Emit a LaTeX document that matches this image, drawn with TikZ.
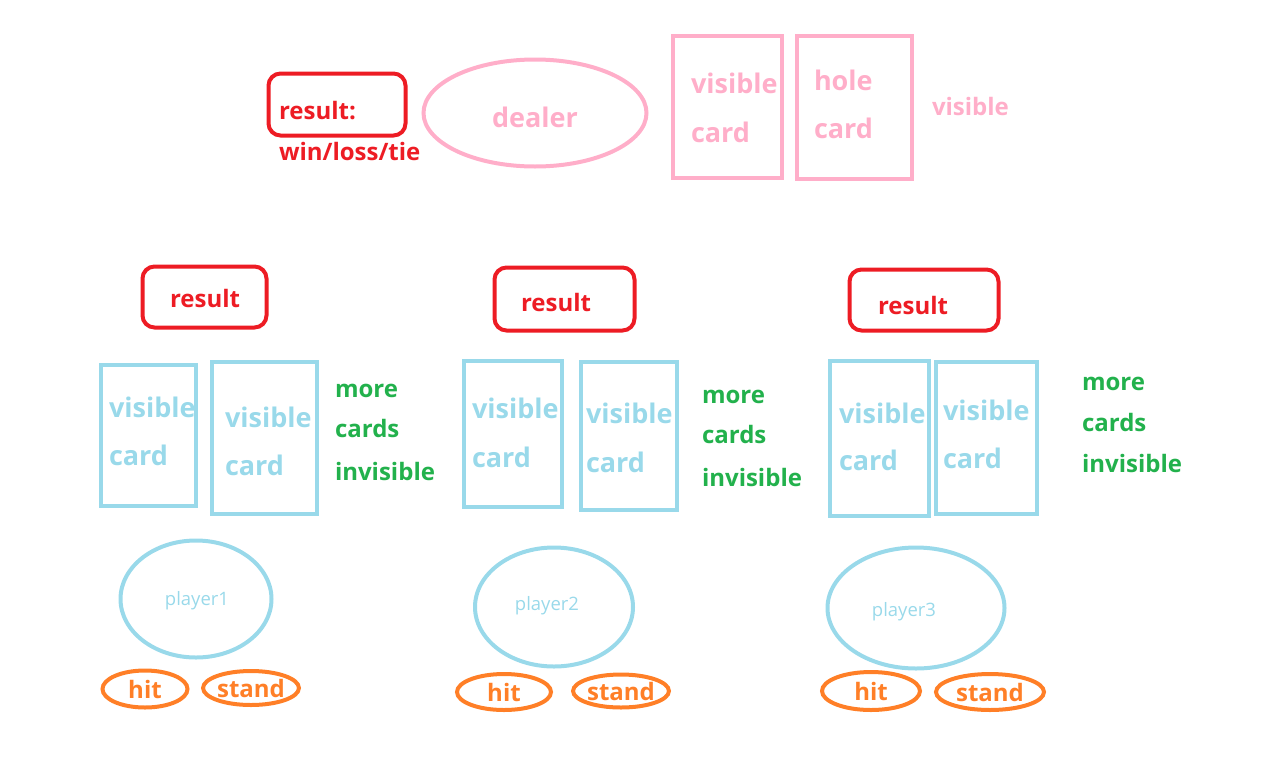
\documentclass[tikz,border=0pt]{standalone}
\usepackage{fontspec}
\setmainfont{Open Sans}
\usetikzlibrary{shapes.geometric}
\definecolor{pred}{HTML}{ED1C24}
\definecolor{ppink}{HTML}{FFAEC9}
\definecolor{pblue}{HTML}{99D9EA}
\definecolor{pgreen}{HTML}{22B14C}
\definecolor{porange}{HTML}{FF7F27}
\begin{document}
\begin{tikzpicture}[x=1pt,y=-1pt,line width=4pt,
  bigtxt/.style={anchor=base west,inner sep=0pt,font=\fontsize{27}{27}\selectfont\bfseries},
  midtxt/.style={anchor=base west,inner sep=0pt,font=\fontsize{24}{24}\selectfont\bfseries},
  cardbox/.style={draw,rectangle,inner sep=0pt},
  resbox/.style={draw=pred,rectangle,rounded corners=12pt,inner sep=0pt},
  oval/.style={draw,ellipse,inner sep=0pt},
  actoval/.style={draw=porange,ellipse,inner sep=0pt,text=porange,font=\fontsize{24}{24}\selectfont\bfseries},
  plabel/.style={inner sep=0pt,text=pblue,font=\fontsize{18.5}{18.5}\selectfont}
]
\useasboundingbox (0,0) rectangle (1280,769);

% ---------- dealer ----------
\node[resbox,minimum width=137pt,minimum height=62pt] (dres) at (337,104.5) {};
\node[midtxt,text=pred] (dres1) at (277,119) {result:};
\node[midtxt,text=pred] (dres2) at (277,160) {win/loss/tie};
\node[oval,draw=ppink,minimum width=223pt,minimum height=107pt] (dealer) at (535,113) {};
\node[inner sep=0pt,text=ppink,font=\fontsize{27}{27}\selectfont\bfseries] (dealert) at (535,117) {dealer};
\node[cardbox,draw=ppink,minimum width=109pt,minimum height=142pt] (dc1) at (727,106.5) {};
\node[bigtxt,text=ppink] (dc1a) at (689,93) {visible};
\node[bigtxt,text=ppink] (dc1b) at (689,142) {card};
\node[cardbox,draw=ppink,minimum width=115pt,minimum height=143pt] (dc2) at (854,107) {};
\node[bigtxt,text=ppink] (dc2a) at (812,90) {hole};
\node[bigtxt,text=ppink] (dc2b) at (812,138) {card};
\node[midtxt,text=ppink] (dvis) at (930,115) {visible};

% ---------- player 1 ----------
\node[resbox,minimum width=124pt,minimum height=61pt] (r1) at (204.5,297) {};
\node[midtxt,text=pred] (r1t) at (168,307) {result};
\node[cardbox,draw=pblue,minimum width=95pt,minimum height=141pt] (p1a) at (148,435) {};
\node[bigtxt,text=pblue] (p1a1) at (107,417) {visible};
\node[bigtxt,text=pblue] (p1a2) at (107,465) {card};
\node[cardbox,draw=pblue,minimum width=105pt,minimum height=152pt] (p1b) at (264,437.5) {};
\node[bigtxt,text=pblue] (p1b1) at (223,427) {visible};
\node[bigtxt,text=pblue] (p1b2) at (223,475) {card};
\node[midtxt,text=pgreen] (g1a) at (333,397) {more};
\node[midtxt,text=pgreen] (g1b) at (333,437) {cards};
\node[midtxt,text=pgreen] (g1c) at (333,480) {invisible};
\node[oval,draw=pblue,minimum width=151pt,minimum height=117pt] (pl1) at (196,599) {};
\node[plabel] (pl1t) at (197,601) {player1};
\node[actoval,minimum width=85pt,minimum height=37pt] (hit1) at (145,689) {hit};
\node[actoval,minimum width=94pt,minimum height=34pt] (st1) at (251,688) {stand};

% ---------- player 2 ----------
\node[resbox,minimum width=140pt,minimum height=63pt] (r2) at (564.5,299) {};
\node[midtxt,text=pred] (r2t) at (519,311) {result};
\node[cardbox,draw=pblue,minimum width=98pt,minimum height=146pt] (p2a) at (512.5,433.5) {};
\node[bigtxt,text=pblue] (p2a1) at (470,418) {visible};
\node[bigtxt,text=pblue] (p2a2) at (470,467) {card};
\node[cardbox,draw=pblue,minimum width=96pt,minimum height=148pt] (p2b) at (628.5,435.5) {};
\node[bigtxt,text=pblue] (p2b1) at (584,423) {visible};
\node[bigtxt,text=pblue] (p2b2) at (584,472) {card};
\node[midtxt,text=pgreen] (g2a) at (700,403) {more};
\node[midtxt,text=pgreen] (g2b) at (700,443) {cards};
\node[midtxt,text=pgreen] (g2c) at (700,486) {invisible};
\node[oval,draw=pblue,minimum width=158pt,minimum height=119pt] (pl2) at (554,607) {};
\node[plabel] (pl2t) at (547,606) {player2};
\node[actoval,minimum width=94pt,minimum height=36pt] (hit2) at (504,692) {hit};
\node[actoval,minimum width=93pt,minimum height=33pt] (st2) at (621,691) {stand};

% ---------- player 3 ----------
\node[resbox,minimum width=149pt,minimum height=61pt] (r3) at (924,300) {};
\node[midtxt,text=pred] (r3t) at (876,314) {result};
\node[cardbox,draw=pblue,minimum width=99pt,minimum height=155pt] (p3a) at (879,438) {};
\node[bigtxt,text=pblue] (p3a1) at (837,423) {visible};
\node[bigtxt,text=pblue] (p3a2) at (837,470) {card};
\node[cardbox,draw=pblue,minimum width=101pt,minimum height=152pt] (p3b) at (986,437.5) {};
\node[bigtxt,text=pblue] (p3b1) at (941,420) {visible};
\node[bigtxt,text=pblue] (p3b2) at (941,468) {card};
\node[midtxt,text=pgreen] (g3a) at (1080,390) {more};
\node[midtxt,text=pgreen] (g3b) at (1080,431) {cards};
\node[midtxt,text=pgreen] (g3c) at (1080,472) {invisible};
\node[oval,draw=pblue,minimum width=177pt,minimum height=121pt] (pl3) at (916,608) {};
\node[plabel] (pl3t) at (904,612) {player3};
\node[actoval,minimum width=98pt,minimum height=38pt] (hit3) at (871,691) {hit};
\node[actoval,minimum width=108pt,minimum height=36pt] (st3) at (990,692) {stand};
\end{tikzpicture}
\end{document}
